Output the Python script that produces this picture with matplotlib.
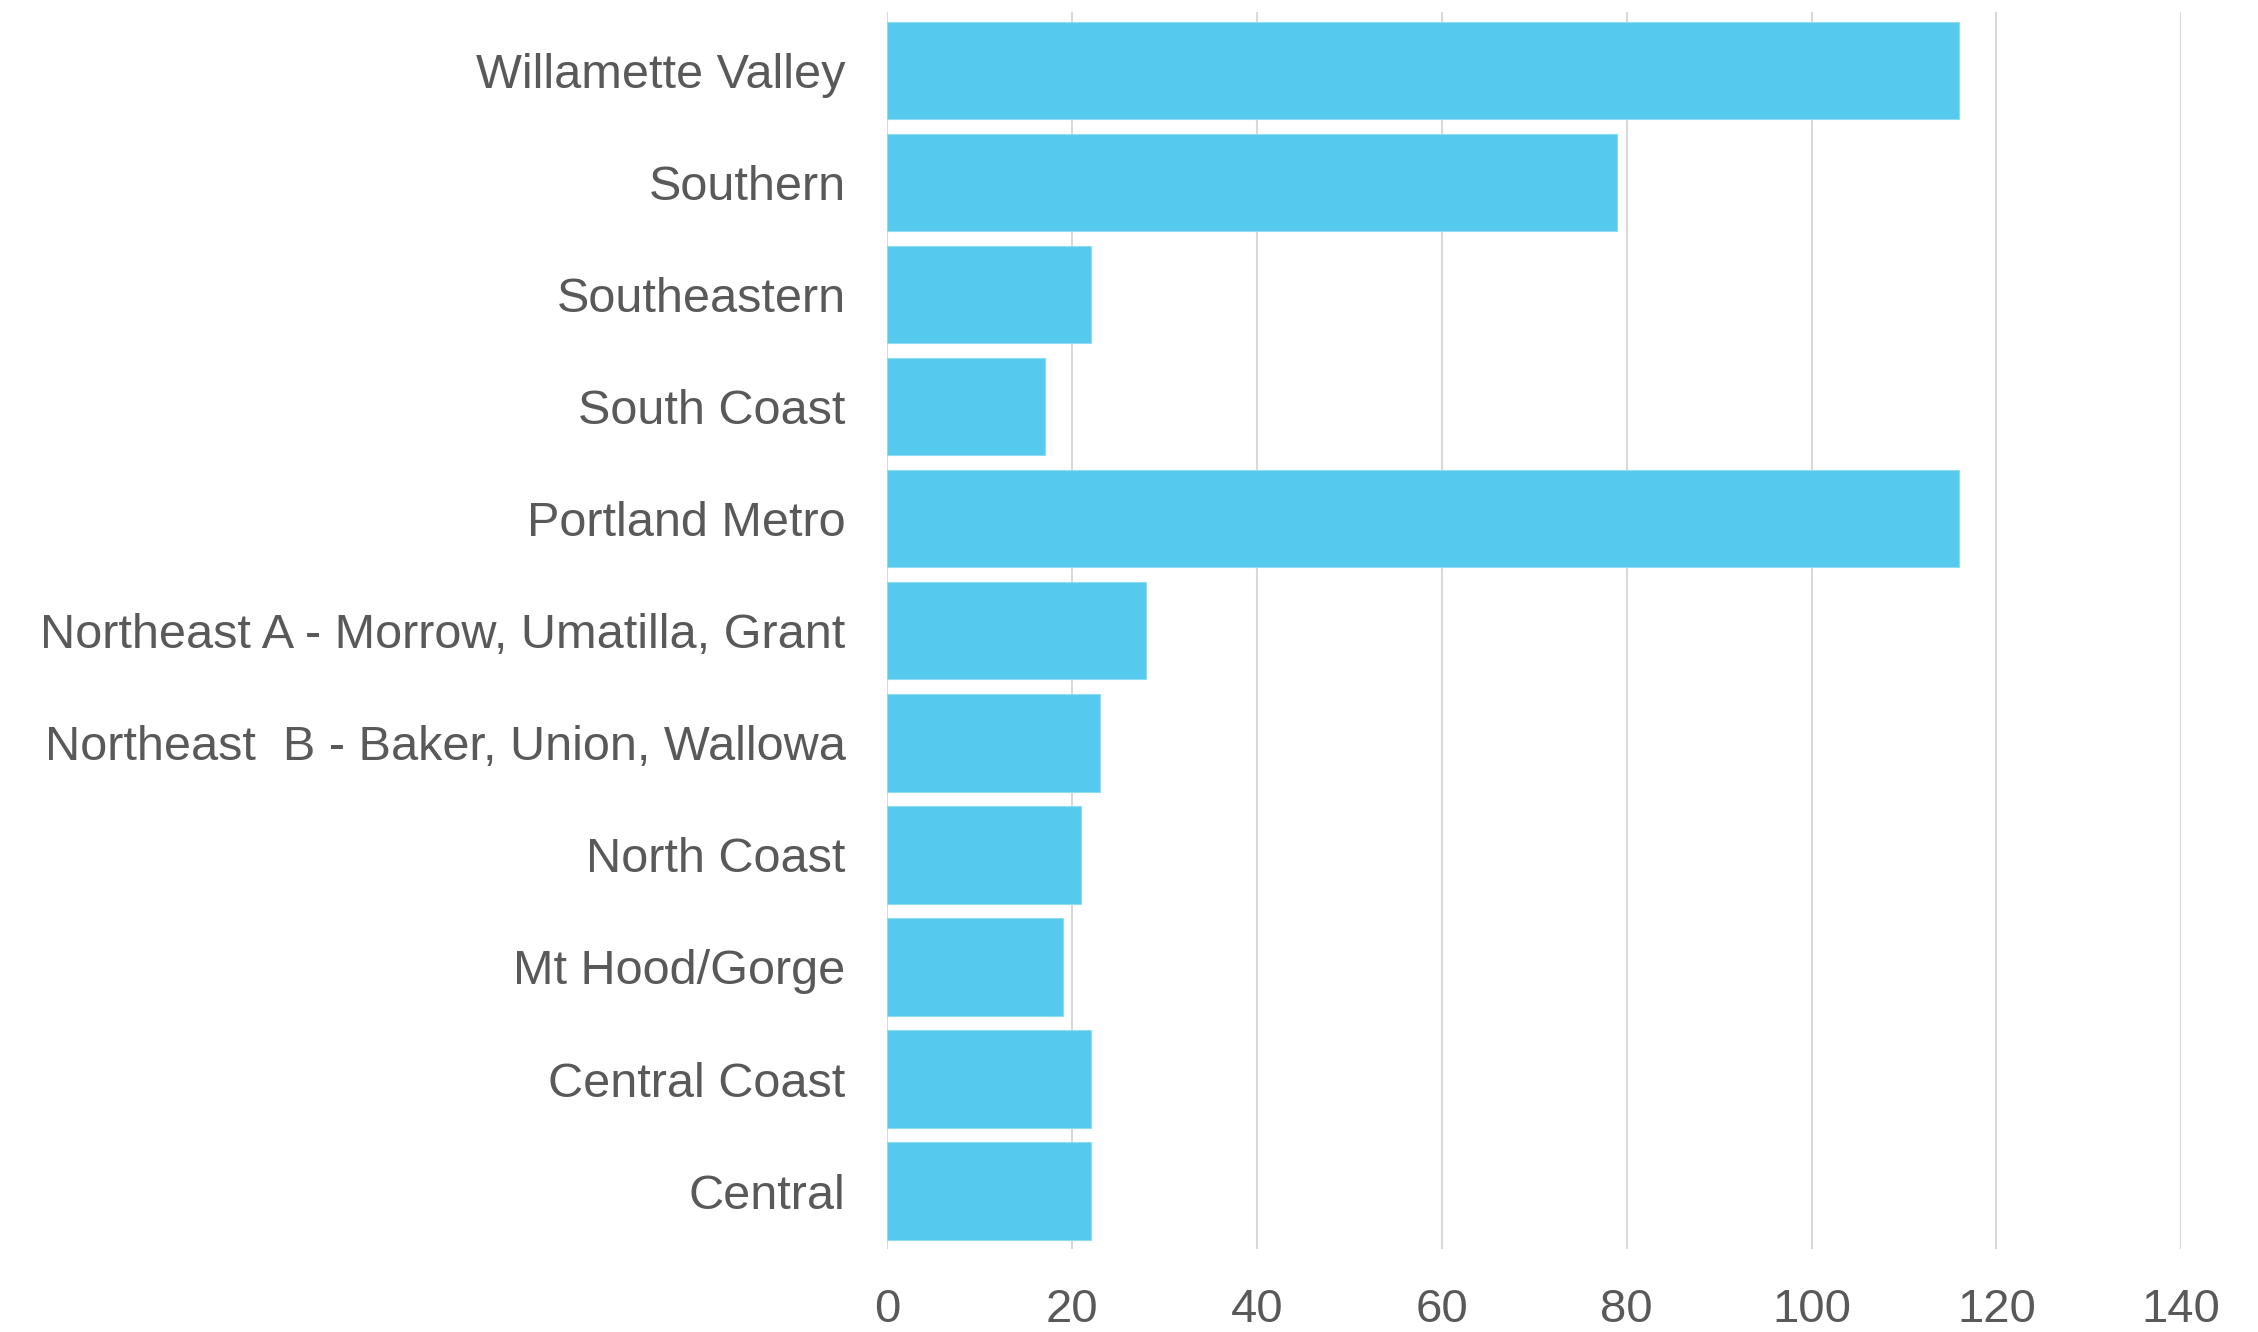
import numpy as np
import matplotlib
matplotlib.use("Agg")
import matplotlib.pyplot as plt

plt.rcParams['font.family'] = ['Liberation Sans', 'DejaVu Sans']

# regions listed bottom to top
regions = [
    "Central",
    "Central Coast",
    "Mt Hood/Gorge",
    "North Coast",
    "Northeast  B - Baker, Union, Wallowa",
    "Northeast A - Morrow, Umatilla, Grant",
    "Portland Metro",
    "South Coast",
    "Southeastern",
    "Southern",
    "Willamette Valley",
]
counts = [22, 22, 19, 21, 23, 28, 116, 17, 22, 79, 116]
x_ticks = [0, 20, 40, 60, 80, 100, 120, 140]

bar_color = '#56C9EE'
text_color = '#595959'
grid_color = '#D9D9D9'

fig = plt.figure(figsize=(22.58, 13.32), dpi=100)
ax = fig.add_axes([0.393, 0.062, 0.573, 0.929])

y = np.arange(len(regions))
ax.barh(y, counts, height=0.87, color=bar_color, edgecolor='#8FDBF4',
        linewidth=0.8, zorder=3)

ax.set_xlim(0, 140)
ax.set_ylim(-0.52, len(regions) - 0.48)
ax.set_xticks(x_ticks)
ax.set_yticks(y)
ax.set_yticklabels(regions)

ax.grid(axis='x', color=grid_color, linewidth=1.5, zorder=0)
ax.set_axisbelow(True)
for s in ax.spines.values():
    s.set_visible(False)

ax.tick_params(axis='y', length=0, pad=30, labelsize=35, labelcolor=text_color)
ax.tick_params(axis='x', length=0, pad=28, labelsize=34, labelcolor=text_color)

fig.savefig('out.png', dpi=100, facecolor='white')
